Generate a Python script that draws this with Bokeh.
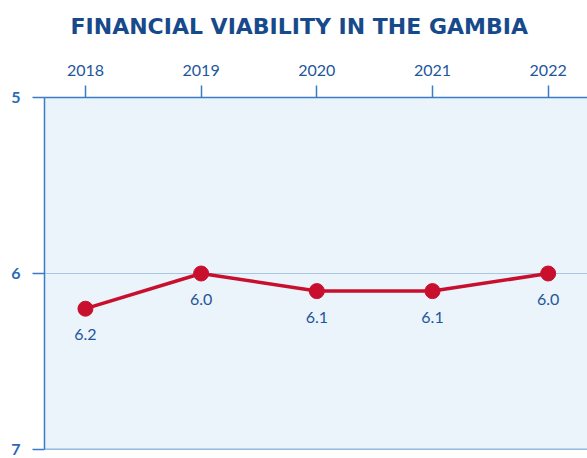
from bokeh.plotting import figure
from bokeh.models import Range1d, FixedTicker, ColumnDataSource, Span
from bokeh.core.properties import value
from bokeh.embed import file_html
from bokeh.resources import INLINE

years = [2018, 2019, 2020, 2021, 2022]
scores = [6.2, 6.0, 6.1, 6.1, 6.0]
labels = ["6.2", "6.0", "6.1", "6.1", "6.0"]
y_ticks = [5, 6, 7]
title = "FINANCIAL VIABILITY IN THE GAMBIA"

FONT = "Lato"
AXIS_BLUE = "#3b7cc6"
TEXT_BLUE = "#1e569a"
RED = "#c8102e"

src = ColumnDataSource(dict(x=years, y=scores, t=labels))

p = figure(width=587, height=458, output_backend="svg", toolbar_location=None,
           x_axis_location="above",
           x_range=Range1d(2017.646, 2022.34), y_range=Range1d(7, 5),
           min_border_left=44, min_border_right=0, min_border_bottom=9, min_border_top=97)

p.title.text = title
p.title.align = "left"
p.title.offset = 26
p.title.text_font = "DejaVu Sans"
p.title.text_font_size = "22px"
p.title.text_font_style = "bold"
p.title.text_color = "#174a8b"
p.title.standoff = 22

p.background_fill_color = "#ebf3fb"
p.border_fill_color = "white"
p.outline_line_color = None

xa = p.xaxis[0]
xa.ticker = FixedTicker(ticks=years)
xa.major_label_text_font = FONT
xa.major_label_text_font_size = "16px"
xa.major_label_text_color = TEXT_BLUE
xa.axis_line_color = AXIS_BLUE
xa.axis_line_width = 1.5
xa.major_tick_line_color = AXIS_BLUE
xa.major_tick_line_width = 1.5
xa.major_tick_out = 12
xa.major_tick_in = 0
xa.minor_tick_line_color = None
xa.major_label_standoff = 10
# blank axis label used only as a spacer between the year labels and the title
xa.axis_label = " "
xa.axis_label_text_font_size = "8px"
xa.axis_label_standoff = 0

ya = p.yaxis[0]
ya.ticker = FixedTicker(ticks=y_ticks)
ya.major_label_text_font = FONT
ya.major_label_text_font_size = "16px"
ya.major_label_text_font_style = "bold"
ya.major_label_text_color = "#2a6ab8"
ya.axis_line_color = AXIS_BLUE
ya.axis_line_width = 1.5
ya.major_tick_line_color = AXIS_BLUE
ya.major_tick_line_width = 1.5
ya.major_tick_out = 12
ya.major_tick_in = 0
ya.minor_tick_line_color = None
ya.major_label_standoff = 12

p.xgrid.grid_line_color = None
p.ygrid.ticker = FixedTicker(ticks=[6])
p.ygrid.grid_line_color = "#a9c6e4"
p.ygrid.grid_line_width = 1.2

p.add_layout(Span(location=7, dimension="width", line_color=AXIS_BLUE, line_width=1.5))

p.line("x", "y", source=src, line_color=RED, line_width=3.5)
p.scatter("x", "y", source=src, size=15, fill_color=RED, line_color=RED)
p.text("x", "y", text="t", source=src, text_font=value(FONT), text_font_size="16px",
       text_color=TEXT_BLUE, text_align="center", text_baseline="middle", y_offset=26)

open("out.html", "w").write(file_html(p, INLINE))
